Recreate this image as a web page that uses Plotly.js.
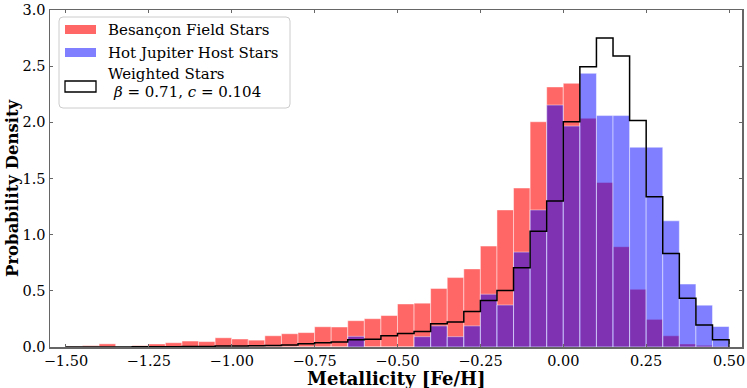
<!DOCTYPE html>
<html>
<head>
<meta charset="utf-8">
<script src="https://cdn.plot.ly/plotly-3.0.1.min.js"></script>
<style>
  body { margin: 0; background: #fff; }
  #chart { width: 747px; height: 388px; }
</style>
</head>
<body>
<div id="chart"></div>
<script>
// bin centres, [Fe/H], bin width 0.05
const binCenters = [
    -1.475, -1.425, -1.375, -1.325, -1.275, -1.225, -1.175, -1.125, -1.075, -1.025,
    -0.975, -0.925, -0.875, -0.825, -0.775, -0.725, -0.675, -0.625, -0.575, -0.525,
    -0.475, -0.425, -0.375, -0.325, -0.275, -0.225, -0.175, -0.125, -0.075, -0.025,
    0.025, 0.075, 0.125, 0.175, 0.225, 0.275, 0.325, 0.375, 0.425, 0.475
];
const binWidth = 0.05;

// Besancon field stars (density)
const fieldStars = [
    0.005, 0.012, 0.028, 0.0, 0.012, 0.027, 0.038, 0.053, 0.048, 0.082,
    0.071, 0.061, 0.100, 0.118, 0.128, 0.180, 0.178, 0.234, 0.252, 0.280,
    0.383, 0.390, 0.521, 0.618, 0.695, 0.898, 1.220, 1.415, 2.005, 2.315,
    2.347, 2.036, 1.465, 0.893, 0.513, 0.246, 0.100, 0.027, 0.015, 0.005
];

// hot Jupiter hosts (density)
const hostStars = [
    0, 0, 0, 0, 0, 0, 0, 0, 0, 0,
    0, 0, 0, 0, 0, 0, 0, 0.095, 0, 0,
    0, 0.092, 0.188, 0.092, 0.188, 0.470, 0.374, 0.845, 1.220, 2.154,
    1.967, 2.436, 2.060, 2.060, 1.778, 1.778, 1.123, 0.560, 0.372, 0.182
];

// weighted field stars, step outline
const weightedStars = [
    0.0, 0.0, 0.001, 0.001, 0.002, 0.002, 0.003, 0.004, 0.005, 0.008,
    0.009, 0.012, 0.013, 0.018, 0.030, 0.038, 0.045, 0.065, 0.068, 0.100,
    0.120, 0.138, 0.208, 0.222, 0.316, 0.413, 0.504, 0.705, 1.030, 1.300,
    2.006, 2.495, 2.750, 2.590, 2.017, 1.338, 0.832, 0.433, 0.195, 0.065
];

const xTicks = [-1.5, -1.25, -1.0, -0.75, -0.5, -0.25, 0.0, 0.25, 0.5];
const yTicks = [0.0, 0.5, 1.0, 1.5, 2.0, 2.5, 3.0];

// step outline: left edges, then close at the right edge
const stepX = binCenters.map(c => c - binWidth / 2);
stepX.unshift(stepX[0]);
const lastEdge = binCenters[binCenters.length - 1] + binWidth / 2;
stepX.push(lastEdge, lastEdge);
const stepY = [0].concat(weightedStars, [weightedStars[weightedStars.length - 1], 0]);

const serif = 'DejaVu Serif, serif';

const fieldTrace = {
    type: 'bar',
    x: binCenters,
    y: fieldStars,
    width: binWidth,
    marker: { color: 'rgba(255,0,0,0.6)', line: { color: 'rgba(255,255,255,0.45)', width: 1 } },
    name: 'Besançon Field Stars',
    hoverinfo: 'x+y'
};

const hostTrace = {
    type: 'bar',
    x: binCenters,
    y: hostStars,
    width: binWidth,
    marker: { color: 'rgba(0,0,255,0.5)', line: { color: 'rgba(255,255,255,0.45)', width: 1 } },
    name: 'Hot Jupiter Host Stars',
    hoverinfo: 'x+y'
};

const weightedTrace = {
    type: 'scatter',
    mode: 'lines',
    x: stepX,
    y: stepY,
    line: { color: 'black', width: 1.5, shape: 'hv' },
    name: 'Weighted Stars',
    hoverinfo: 'skip'
};

// manual legend (matplotlib style patches), positions in page pixels
function px2x(p) { return (p - 50) / 692; }
function px2y(p) { return (347 - p) / 337; }

function roundRect(x0, y0, x1, y1, r) {
    const rx = r / 692, ry = r / 337;
    const a = px2x(x0), b = px2x(x1), t = px2y(y0), u = px2y(y1);
    return 'M' + (a + rx) + ',' + t +
        ' L' + (b - rx) + ',' + t + ' Q' + b + ',' + t + ' ' + b + ',' + (t - ry) +
        ' L' + b + ',' + (u + ry) + ' Q' + b + ',' + u + ' ' + (b - rx) + ',' + u +
        ' L' + (a + rx) + ',' + u + ' Q' + a + ',' + u + ' ' + a + ',' + (u + ry) +
        ' L' + a + ',' + (t - ry) + ' Q' + a + ',' + t + ' ' + (a + rx) + ',' + t + ' Z';
}

function patch(y0, y1, fill, line) {
    return {
        type: 'rect', xref: 'paper', yref: 'paper',
        x0: px2x(65), x1: px2x(96), y0: px2y(y1), y1: px2y(y0),
        fillcolor: fill, line: line
    };
}

const shapes = [
    { type: 'path', xref: 'paper', yref: 'paper', path: roundRect(59, 17, 290, 108, 4),
      fillcolor: 'rgba(255,255,255,0.8)', line: { color: '#cccccc', width: 1 } },
    patch(25, 34, 'rgba(255,0,0,0.6)', { width: 0 }),
    patch(48, 57, 'rgba(0,0,255,0.5)', { width: 0 }),
    patch(81, 92, 'white', { color: 'black', width: 1.3 })
];

function legendText(text, x, y) {
    return {
        xref: 'paper', yref: 'paper', x: px2x(x), y: px2y(y),
        xanchor: 'left', yanchor: 'middle', showarrow: false, borderpad: 0,
        text: text, font: { family: serif, size: 15, color: 'black' }
    };
}

const annotations = [
    legendText('Besançon Field Stars', 107, 30),
    legendText('Hot Jupiter Host Stars', 107, 53),
    legendText('Weighted Stars', 107, 74),
    legendText('<i>β</i> = 0.71, <i>c</i> = 0.104', 112, 92),
    // axis titles
    {
        xref: 'paper', yref: 'paper', x: px2x(397), y: px2y(378),
        xanchor: 'center', yanchor: 'middle', showarrow: false,
        text: '<b>Metallicity [Fe/H]</b>',
        font: { family: serif, size: 18, color: 'black' }
    },
    {
        xref: 'paper', yref: 'paper', x: px2x(12), y: px2y(188),
        xanchor: 'center', yanchor: 'middle', showarrow: false, textangle: -90,
        text: '<b>Probability Density</b>',
        font: { family: serif, size: 16.5, color: 'black' }
    }
];

const axisCommon = {
    showgrid: false,
    zeroline: false,
    showline: true,
    linecolor: '#666666',
    linewidth: 1.5,
    mirror: 'ticks',
    ticks: 'inside',
    ticklen: 3,
    tickwidth: 1,
    tickcolor: '#666666',
    tickfont: { family: serif, size: 14.5, color: 'black' }
};

const layout = {
    width: 747,
    height: 388,
    margin: { l: 50, r: 5, t: 10, b: 41 },
    paper_bgcolor: 'white',
    plot_bgcolor: 'white',
    barmode: 'overlay',
    bargap: 0,
    showlegend: false,
    xaxis: Object.assign({}, axisCommon, {
        range: [-1.548, 0.539],
        tickvals: xTicks,
        tickformat: '.2f'
    }),
    yaxis: Object.assign({}, axisCommon, {
        range: [0, 3.0],
        tickvals: yTicks,
        tickformat: '.1f'
    }),
    shapes: shapes,
    annotations: annotations
};

Plotly.newPlot('chart', [fieldTrace, hostTrace, weightedTrace], layout, { displayModeBar: false, staticPlot: true });
</script>
</body>
</html>
